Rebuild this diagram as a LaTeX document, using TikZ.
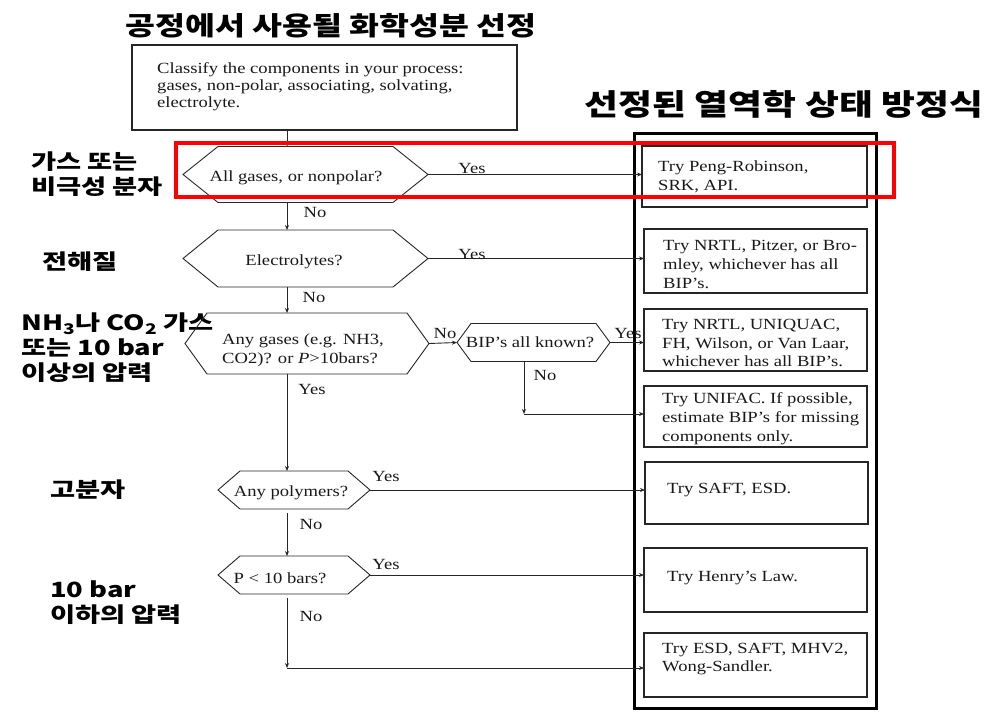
\documentclass[tikz,border=0pt]{standalone}
\usepackage{fontspec}
\usepackage{graphicx}
\setmainfont{Liberation Serif}[FakeStretch=1.2]
\newfontfamily\kr{Noto Sans CJK KR}[FakeStretch=1.25]
\newfontfamily\krl{Noto Sans CJK KR}[FakeStretch=1.3]
\usetikzlibrary{arrows.meta}
\newcommand\serifsz{\fontsize{15.5}{18.8}\selectfont}
\newcommand\korsz{\krl\bfseries\fontsize{21}{25}\selectfont}
\newcommand\kortit{\kr\bfseries\fontsize{26}{30}\selectfont}
\newcommand\hexo[2]{\draw[ln] (#1.west) -- ([xshift=#2]#1.north west) -- ([xshift=-#2]#1.north east) -- (#1.east) -- ([xshift=-#2]#1.south east) -- ([xshift=#2]#1.south west) -- cycle;}
\tikzset{
  ln/.style={draw=black!85, line width=0.9pt},
  arr/.style={ln, -{Stealth[length=5pt,width=4pt]}},
  geo/.style={inner sep=0pt, outer sep=0pt},
  txt/.style={font=\serifsz, inner sep=0pt, align=left, text=black!90},
  lbl/.style={font=\serifsz, inner sep=0pt, text=black!90},
  kor/.style={font=\korsz, inner sep=0pt, align=left},
  kortitle/.style={font=\kortit, inner sep=0pt},
  rbox/.style={draw=black!85, line width=1.1pt, inner sep=0pt, outer sep=0pt, minimum width=223pt},
}
\begin{document}
\begin{tikzpicture}[x=1pt,y=-1pt]
\fill[white] (0,0) rectangle (1003,725);
\useasboundingbox (0,0) rectangle (1003,725);

% titles
\node[kortitle] (title) at (331,26) {공정에서 사용될 화학성분 선정};
\node[kortitle, font=\kr\bfseries\fontsize{29.5}{33}\selectfont] (rtitle) at (784,104.5) {선정된 열역학 상태 방정식};

% left Korean labels
\node[kor, anchor=west] (k1) at (31,174) {가스 또는\\비극성 분자};
\node[kor, anchor=west] (k2) at (42,262) {전해질};
\node[kor, anchor=west] (k3) at (21,347.5) {NH\textsubscript{3}나 CO\textsubscript{2} 가스\\또는 10 bar\\이상의 압력};
\node[kor, anchor=west] (k4) at (50,490) {고분자};
\node[kor, anchor=west] (k5) at (50,602.5) {10 bar\\이하의 압력};

% top box
\node[draw=black!85, line width=1.1pt, geo, minimum width=385pt, minimum height=85pt] (cls) at (324.5,87.5) {};
\node[txt, anchor=west, font=\fontsize{15.5}{17}\selectfont] (clst) at (157,87) {Classify the components in your process:\\gases, non-polar, associating, solvating,\\electrolyte.};

% hexagon geometry
\node[geo, minimum width=245pt, minimum height=56pt] (h1) at (305.5,174.5) {};
\node[geo, minimum width=245pt, minimum height=57pt] (h2) at (305.5,258.5) {};
\node[geo, minimum width=244pt, minimum height=61pt] (h3) at (307,343.5) {};
\node[geo, minimum width=153pt, minimum height=38pt] (bip) at (533.5,342.5) {};
\node[geo, minimum width=152pt, minimum height=38pt] (h4) at (294,490) {};
\node[geo, minimum width=152pt, minimum height=38pt] (h5) at (294,575) {};
\hexo{h1}{35}
\hexo{h2}{35}
\hexo{h3}{22}
\hexo{bip}{14}
\hexo{h4}{22}
\hexo{h5}{22}

% hexagon texts
\node[lbl] (h1t) at (296,178) {All gases, or nonpolar?};
\node[lbl] (h2t) at (294,262) {Electrolytes?};
\node[txt, anchor=west] (h3t) at (222,350) {Any gases (e.g. NH3,\\CO2)? or \textit{P}>10bars?};
\node[lbl] (bipt) at (530,342) {BIP's all known?};
\node[lbl] (h4t) at (291,493) {Any polymers?};
\node[lbl] (h5t) at (280,578) {P < 10 bars?};

% right frame and boxes
\node[draw=black, line width=3pt, geo, minimum width=242pt, minimum height=575pt] (eq) at (755,420.5) {};
\node[rbox, minimum width=225pt, minimum height=61pt] (r1) at (754.5,176.5) {};
\node[rbox, minimum height=64pt] (r2) at (755.5,261) {};
\node[rbox, minimum height=62pt] (r3) at (755.5,340) {};
\node[rbox, minimum height=61pt] (r4) at (755.5,416.5) {};
\node[rbox, minimum height=62pt] (r5) at (756.5,493) {};
\node[rbox, minimum height=64pt] (r6) at (755.5,580) {};
\node[rbox, minimum height=64pt] (r7) at (755.5,665) {};

\node[txt, anchor=west] (r1t) at (658,176.5) {Try Peng-Robinson,\\SRK, API.};
\node[txt, anchor=west] (r2t) at (663,264.5) {Try NRTL, Pitzer, or Bro-\\mley, whichever has all\\BIP's.};
\node[txt, anchor=west] (r3t) at (662,343) {Try NRTL, UNIQUAC,\\FH, Wilson, or Van Laar,\\whichever has all BIP's.};
\node[txt, anchor=west] (r4t) at (662,419) {Try UNIFAC. If possible,\\estimate BIP's for missing\\components only.};
\node[txt, anchor=west] (r5t) at (667,490) {Try SAFT, ESD.};
\node[txt, anchor=west] (r6t) at (667,578) {Try Henry's Law.};
\node[txt, anchor=west] (r7t) at (662,659) {Try ESD, SAFT, MHV2,\\Wong-Sandler.};

% connectors
\coordinate (sp) at (287,0);
\coordinate (c1) at (524,414);
\coordinate (c2) at (287,668);
\draw[arr] (cls.south -| sp) -- (h1.north -| sp);
\draw[arr] (h1.south -| sp) -- (h2.north -| sp);
\draw[arr] (h2.south -| sp) -- (h3.north -| sp);
\draw[arr] (h3.south -| sp) -- (h4.north -| sp);
\draw[arr] ([yshift=-4pt]h4.south -| sp) -- (h5.north -| sp);
\draw[arr] ([yshift=-4pt]h5.south -| sp) -- (c2);
\draw[arr] (c2) -- (c2 -| r7.west);
\draw[arr] (h1.east) -- (h1.east -| r1.west);
\draw[arr] (h2.east) -- (h2.east -| r2.west);
\draw[arr] (h3.east) -- (bip.west);
\draw[arr] (bip.east) -- (bip.east -| r3.west);
\draw[arr] (bip.south -| c1) -- (c1);
\draw[arr] (c1) -- (c1 -| r4.west);
\draw[arr] (h4.east) -- (h4.east -| r5.west);
\draw[arr] (h5.east) -- (h5.east -| r6.west);

% connector labels
\node[lbl] (y1) at (472,168) {Yes};
\node[lbl] (n1) at (315,212) {No};
\node[lbl] (y2) at (472,254) {Yes};
\node[lbl] (n2) at (314,297) {No};
\node[lbl] (n3) at (445,333) {No};
\node[lbl] (y3) at (628,333) {Yes};
\node[lbl] (n4) at (545,375) {No};
\node[lbl] (y4) at (312,389) {Yes};
\node[lbl] (y5) at (386,476) {Yes};
\node[lbl] (n5) at (311,524) {No};
\node[lbl] (y6) at (386,564) {Yes};
\node[lbl] (n6) at (311,616) {No};

% red highlight
\node[draw=red, line width=3.5pt, geo, minimum width=718pt, minimum height=54pt] (hl) at (535,170) {};
\end{tikzpicture}
\end{document}
